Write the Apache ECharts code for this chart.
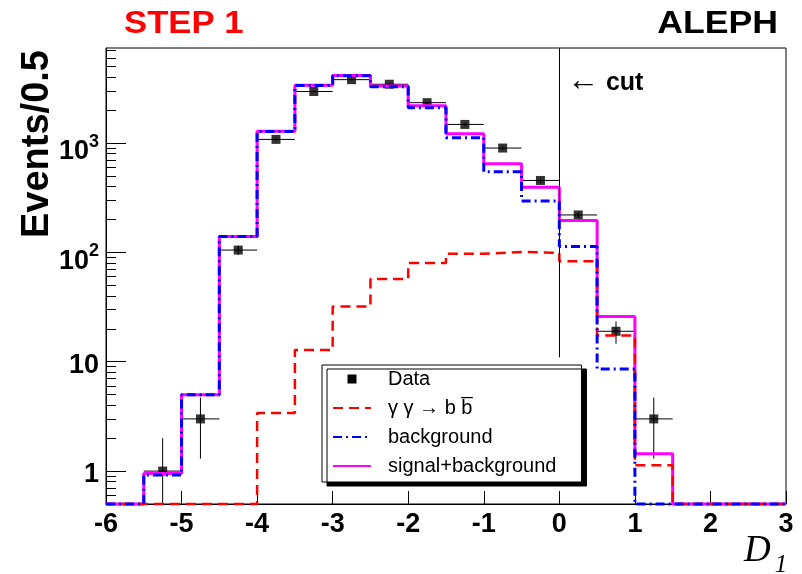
<!DOCTYPE html>
<html>
<head>
<meta charset="utf-8">
<script src="https://cdn.jsdelivr.net/npm/echarts@6/dist/echarts.min.js"></script>
<style>
  html, body { margin: 0; padding: 0; background: #fff; }
  #chart { width: 802px; height: 574px; }
</style>
</head>
<body>
<div id="chart"></div>
<script>
// Histogram binning in D1 (bins of width 0.5)
const binEdges = [-6, -5.5, -5, -4.5, -4, -3.5, -3, -2.5, -2, -1.5, -1, -0.5, 0, 0.5, 1, 1.5, 2, 2.5, 3];

// Expected events per bin
const signalBb             = [0, 0, 0, 0, 3.4, 12.8, 32, 57, 80, 97, 101, 99, 83, 17.4, 1.13, 0, 0, 0];
const background           = [0, 0.92, 5, 140, 1275, 3355, 4120, 3270, 2105, 1120, 545, 295, 113, 8.6, 0.3, 0, 0, 0];
const signalPlusBackground = [0, 0.95, 5, 140, 1280, 3370, 4150, 3330, 2190, 1215, 646, 394, 196, 25.9, 1.44, 0, 0, 0];

// Observed data: bin centres, counts, statistical errors
const dataX   = [-5.25, -4.75, -4.25, -3.75, -3.25, -2.75, -2.25, -1.75, -1.25, -0.75, -0.25, 0.25, 0.75, 1.25];
const dataY   = [1, 3, 105, 1080, 2960, 3800, 3450, 2340, 1480, 900, 455, 220, 19, 3];
const dataErr = [1, 1.7, 10, 33, 54, 62, 59, 48, 38, 30, 21, 15, 4.4, 1.7];
const binHalfWidth = 0.25;

// Axes
const xMin = -6, xMax = 3, xStep = 1;
const yMin = 0.5, yMax = 7400;
const yMajorTicks = [1, 10, 100, 1000];
const yMinorTicks = [0.6, 0.7, 0.8, 0.9,
  2, 3, 4, 5, 6, 7, 8, 9,
  20, 30, 40, 50, 60, 70, 80, 90,
  200, 300, 400, 500, 600, 700, 800, 900,
  2000, 3000, 4000, 5000, 6000, 7000];

// Selection cut
const cutAt = 0, cutFrom = 11;

const FONT = '"Liberation Sans", Arial, Helvetica, sans-serif';
const SERIF = '"Liberation Serif", "Times New Roman", serif';

// Empty bins sit on the lower frame edge, as on a log plot
const clampLow = v => Math.max(v, yMin);
function histPoints(values) {
  const pts = values.map((v, i) => [binEdges[i], clampLow(v)]);
  pts.push([binEdges[binEdges.length - 1], clampLow(values[values.length - 1])]);
  return pts;
}

const NAME_DATA = 'Data';
const NAME_SIG = 'γ γ → b b\u0305';
const NAME_BKG = 'background';
const NAME_SUM = 'signal+background';

const chart = echarts.init(document.getElementById('chart'), null, { renderer: 'canvas' });

chart.setOption({
  backgroundColor: '#fff',
  animation: false,
  grid: {
    left: 106, top: 48, width: 680, height: 456,
    show: true, borderColor: '#000', borderWidth: 1, backgroundColor: 'transparent'
  },
  xAxis: {
    type: 'value', min: xMin, max: xMax, interval: xStep,
    axisLine: { show: true, onZero: false, lineStyle: { color: '#000', width: 1 } },
    axisTick: { show: true, inside: true, length: 13, lineStyle: { color: '#000', width: 1 } },
    axisLabel: {
      show: true, margin: 7, color: '#000', fontFamily: FONT, fontWeight: 'bold', fontSize: 27,
      formatter: v => String(v)
    },
    splitLine: { show: false }
  },
  yAxis: [
    {
      type: 'log', logBase: 10, min: yMin, max: yMax, position: 'left',
      axisLine: { show: true, onZero: false, lineStyle: { color: '#000', width: 1 } },
      axisTick: { show: true, inside: true, length: 20, customValues: yMajorTicks, lineStyle: { color: '#000', width: 1 } },
      axisLabel: {
        show: true, margin: 7, customValues: yMajorTicks,
        formatter: v => {
          const e = Math.round(Math.log10(v));
          return e >= 2 ? '{b|10}{s|' + e + '}' : '{p|' + String(Math.round(v)) + '}';
        },
        rich: {
          p: { fontFamily: FONT, fontWeight: 'bold', fontSize: 27, color: '#000', padding: [7, 0, 0, 0] },
          b: { fontFamily: FONT, fontWeight: 'bold', fontSize: 27, color: '#000', padding: [18, 0, 0, 0] },
          s: { fontFamily: FONT, fontWeight: 'bold', fontSize: 18, color: '#000', verticalAlign: 'top', padding: [12, 0, 0, 0] }
        }
      },
      splitLine: { show: false }
    },
    {
      type: 'log', logBase: 10, min: yMin, max: yMax, position: 'left',
      axisLine: { show: false, onZero: false },
      axisTick: { show: true, inside: true, length: 10, customValues: yMinorTicks, lineStyle: { color: '#000', width: 1 } },
      axisLabel: { show: false },
      splitLine: { show: false }
    }
  ],
  legend: {
    orient: 'vertical', left: 322, top: 365,
    padding: [4, 25, 6, 10], itemGap: 9, itemWidth: 38, itemHeight: 9,
    symbolKeepAspect: true,
    backgroundColor: '#fff', borderColor: '#000', borderWidth: 1,
    shadowColor: '#000', shadowBlur: 0, shadowOffsetX: 5, shadowOffsetY: 4,
    selectedMode: false,
    textStyle: { fontFamily: FONT, fontSize: 20, color: '#000', lineHeight: 20, padding: [0, 0, 0, 12] },
    itemStyle: { opacity: 0 },
    data: [
      { name: NAME_DATA, icon: 'path://M0,0L10,0L10,10L0,10Z', itemStyle: { opacity: 1, color: '#000' } },
      { name: NAME_SIG },
      { name: NAME_BKG },
      { name: NAME_SUM }
    ]
  },
  graphic: [
    {
      type: 'text', x: 124, y: 24, scaleX: 1.12,
      style: { text: 'STEP 1', font: 'bold 31px ' + FONT, fill: '#ff0000', verticalAlign: 'middle', align: 'left' }
    },
    {
      type: 'text', x: 778, y: 24, scaleX: 1.15,
      style: { text: 'ALEPH', font: 'bold 31px ' + FONT, fill: '#000', verticalAlign: 'middle', align: 'right' }
    },
    {
      type: 'text', x: 567, y: 83,
      style: {
        text: '{a|←}{c| cut}', verticalAlign: 'middle', align: 'left',
        rich: {
          a: { fontFamily: FONT, fontSize: 32, color: '#000', verticalAlign: 'middle', padding: [0, 0, 3, 0] },
          c: { fontFamily: FONT, fontSize: 25, fontWeight: 'bold', color: '#000', verticalAlign: 'middle' }
        }
      }
    },
    {
      type: 'text', x: 38, y: 50, rotation: Math.PI / 2,
      style: { text: 'Events/0.5', font: 'bold 38px ' + FONT, fill: '#000', align: 'right', verticalAlign: 'middle' }
    },
    {
      type: 'text', x: 744, y: 555,
      style: {
        text: '{d|D}{s|1}', align: 'left', verticalAlign: 'middle',
        rich: {
          d: { fontFamily: SERIF, fontStyle: 'italic', fontSize: 37, color: '#000', verticalAlign: 'top' },
          s: { fontFamily: SERIF, fontStyle: 'italic', fontSize: 25, color: '#000', verticalAlign: 'bottom', padding: [20, 0, 0, 4] }
        }
      }
    }
  ],
  series: [
    {
      name: NAME_SUM, type: 'line', step: 'end', xAxisIndex: 0, yAxisIndex: 0,
      data: histPoints(signalPlusBackground), showSymbol: false, symbol: 'none', clip: false,
      lineStyle: { color: '#ff00ff', width: 3 }, itemStyle: { color: '#ff00ff' }
    },
    {
      name: NAME_SIG, type: 'line', step: 'end', xAxisIndex: 0, yAxisIndex: 0,
      data: histPoints(signalBb), showSymbol: false, symbol: 'none', clip: false,
      lineStyle: { color: '#ff0000', width: 2.5, type: [10, 6] }, itemStyle: { color: '#ff0000' }
    },
    {
      name: NAME_BKG, type: 'line', step: 'end', xAxisIndex: 0, yAxisIndex: 0,
      data: histPoints(background), showSymbol: false, symbol: 'none', clip: false,
      lineStyle: { color: '#0000ff', width: 3, type: [9, 4, 2, 4] }, itemStyle: { color: '#0000ff' }
    },
    {
      name: 'errors', type: 'custom', xAxisIndex: 0, yAxisIndex: 0, clip: false,
      data: dataX.map((x, i) => [x, dataY[i], dataErr[i]]),
      encode: { x: 0, y: 1 },
      renderItem: (params, api) => {
        const x = api.value(0), y = api.value(1), e = api.value(2);
        const l = api.coord([x - binHalfWidth, y]);
        const r = api.coord([x + binHalfWidth, y]);
        const t = api.coord([x, y + e]);
        const b = api.coord([x, clampLow(y - e)]);
        return {
          type: 'group',
          children: [
            { type: 'line', shape: { x1: l[0], y1: l[1], x2: r[0], y2: r[1] }, style: { stroke: '#000', lineWidth: 1 } },
            { type: 'line', shape: { x1: t[0], y1: t[1], x2: b[0], y2: b[1] }, style: { stroke: '#000', lineWidth: 1 } }
          ]
        };
      }
    },
    {
      name: NAME_DATA, type: 'scatter', xAxisIndex: 0, yAxisIndex: 0,
      data: dataX.map((x, i) => [x, dataY[i]]),
      symbol: 'rect', symbolSize: 9, itemStyle: { color: '#000' },
      markLine: {
        silent: true, symbol: 'none', label: { show: false },
        lineStyle: { color: '#000', width: 1, type: 'solid' },
        data: [[{ coord: [cutAt, cutFrom] }, { coord: [cutAt, yMax] }]]
      }
    }
  ]
});
</script>
</body>
</html>
